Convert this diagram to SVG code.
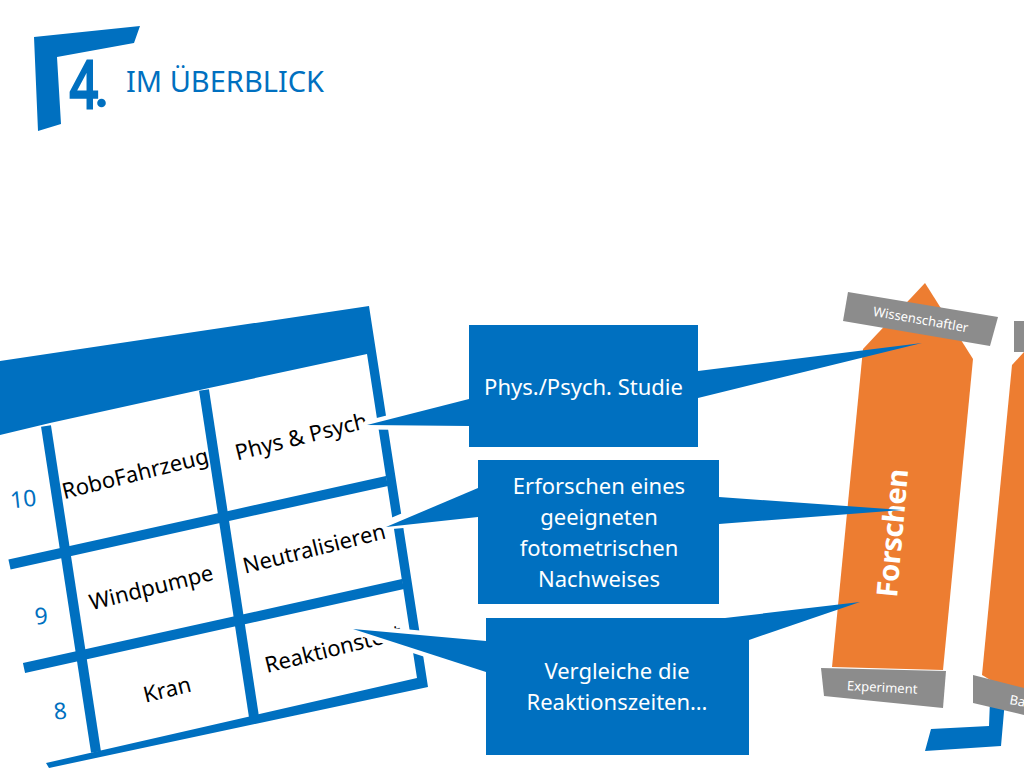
<svg xmlns="http://www.w3.org/2000/svg" width="1024" height="768" viewBox="0 0 1024 768">
<style>
text{font-family:"Noto Sans","Open Sans","Liberation Sans",sans-serif}
.b{fill:#0070c0}
.o{fill:#ed7d31}
.g{fill:#8c8c8c}
.l{stroke:#0070c0;stroke-width:10;fill:none}
.t{font-size:22px;fill:#000;text-anchor:middle}
.n{font-size:23px;fill:#0070c0;text-anchor:middle}
.c{font-size:22px;fill:#fff;text-anchor:middle}
.s{font-size:13px;fill:#fff;text-anchor:middle}
.h{fill:#fff;stroke:#fff;stroke-width:9;stroke-linejoin:round}
</style>
<rect width="1024" height="768" fill="#fff"/>
<g id="logo">
<polygon class="b" points="34,37 140,26 134,43 57,57 61,124 38,131"/>
<text x="84" y="108" font-size="65" class="b" stroke="#0070c0" stroke-width="3" text-anchor="middle" transform="translate(84 0) scale(.76 1) translate(-84 0)">4</text>
<circle class="b" cx="101.500" cy="103" r="4.300"/>
<text x="126" y="92" font-size="29" class="b">IM ÜBERBLICK</text>
</g>
<g id="table">
<polygon class="b" points="0,361 369,306 428,687 49,768 46,763 417,678 367,354 209,388 50,423 0,435"/>
<line class="l" x1="46" y1="426" x2="96" y2="752"/>
<line class="l" x1="204" y1="390" x2="254" y2="717"/>
<line class="l" x1="9.500" y1="564.500" x2="387" y2="481"/>
<line class="l" x1="24" y1="668" x2="403" y2="584"/>
<text class="t" transform="translate(137 481) rotate(-14)">RoboFahrzeug</text>
<text class="t" transform="translate(303 444) rotate(-14)">Phys &amp; Psych</text>
<text class="t" transform="translate(153 595) rotate(-14)">Windpumpe</text>
<text class="t" transform="translate(316 556) rotate(-14)">Neutralisieren</text>
<text class="t" transform="translate(169 697) rotate(-14)">Kran</text>
<text class="t" transform="translate(335 656) rotate(-14)">Reaktionstest</text>
<text class="n" transform="translate(24 507) rotate(-6)">10</text>
<text class="n" transform="translate(42 624) rotate(-6)">9</text>
<text class="n" transform="translate(61 719) rotate(-6)">8</text>
</g>
<g id="arrow-forschen">
<polygon class="o" points="925,283 973,359 943,670 832,667 863,349"/>
<text font-size="29" font-weight="700" fill="#fff" text-anchor="middle" letter-spacing="-.4" transform="translate(902.500 534) rotate(-85)">Forschen</text>
<polygon class="g" points="848,292 998,317 990,346 843,321"/>
<text class="s" transform="translate(920 324) rotate(10)">Wissenschaftler</text>
<polygon class="g" points="821,668 946,671 943,708 824,696"/>
<text class="s" transform="translate(882 692) rotate(3)">Experiment</text>
</g>
<g id="arrow-second">
<polygon class="o" points="1012,365 1024,352 1024,700 982,675"/>
<polygon class="g" points="1014,321 1024,321 1024,352 1014,352"/>
<polygon class="b" points="990,700 1005,700 1001,746 925,751 931,729 989,726"/>
<polygon class="g" points="973,675 1024,688 1024,715 973,703"/>
<text class="s" x="1009" y="704" style="text-anchor:start" transform="rotate(10 1009 704)">Ba</text>
</g>
<g id="connectors">
<polygon class="h" points="469,399 367,425 469,426"/>
<polygon class="h" points="478,486 386,525 478,517"/>
<polygon class="h" points="486,641 353,629 486,672"/>
<polygon class="b" points="469,399 367,425 469,426"/>
<polygon class="b" points="698,371 922,343 698,398"/>
<polygon class="b" points="478,488 386,527 478,517"/>
<polygon class="b" points="719,497 902,510 719,524"/>
<polygon class="b" points="486,641 353,629 486,672"/>
<polygon class="b" points="725,618 860,602 749,640"/>
</g>
<g id="box-studie">
<rect class="b" x="469" y="325" width="229" height="122"/>
<text class="c" x="583.500" y="395">Phys./Psych. Studie</text>
</g>
<g id="box-nachweis">
<rect class="b" x="478" y="460" width="241" height="144"/>
<text class="c" x="599" y="494">Erforschen eines</text>
<text class="c" x="599" y="525">geeigneten</text>
<text class="c" x="599" y="556">fotometrischen</text>
<text class="c" x="599" y="587">Nachweises</text>
</g>
<g id="box-vergleich">
<rect class="b" x="486" y="618" width="263" height="137"/>
<text class="c" x="617" y="679">Vergleiche die</text>
<text class="c" x="617" y="710">Reaktionszeiten…</text>
</g>
</svg>
